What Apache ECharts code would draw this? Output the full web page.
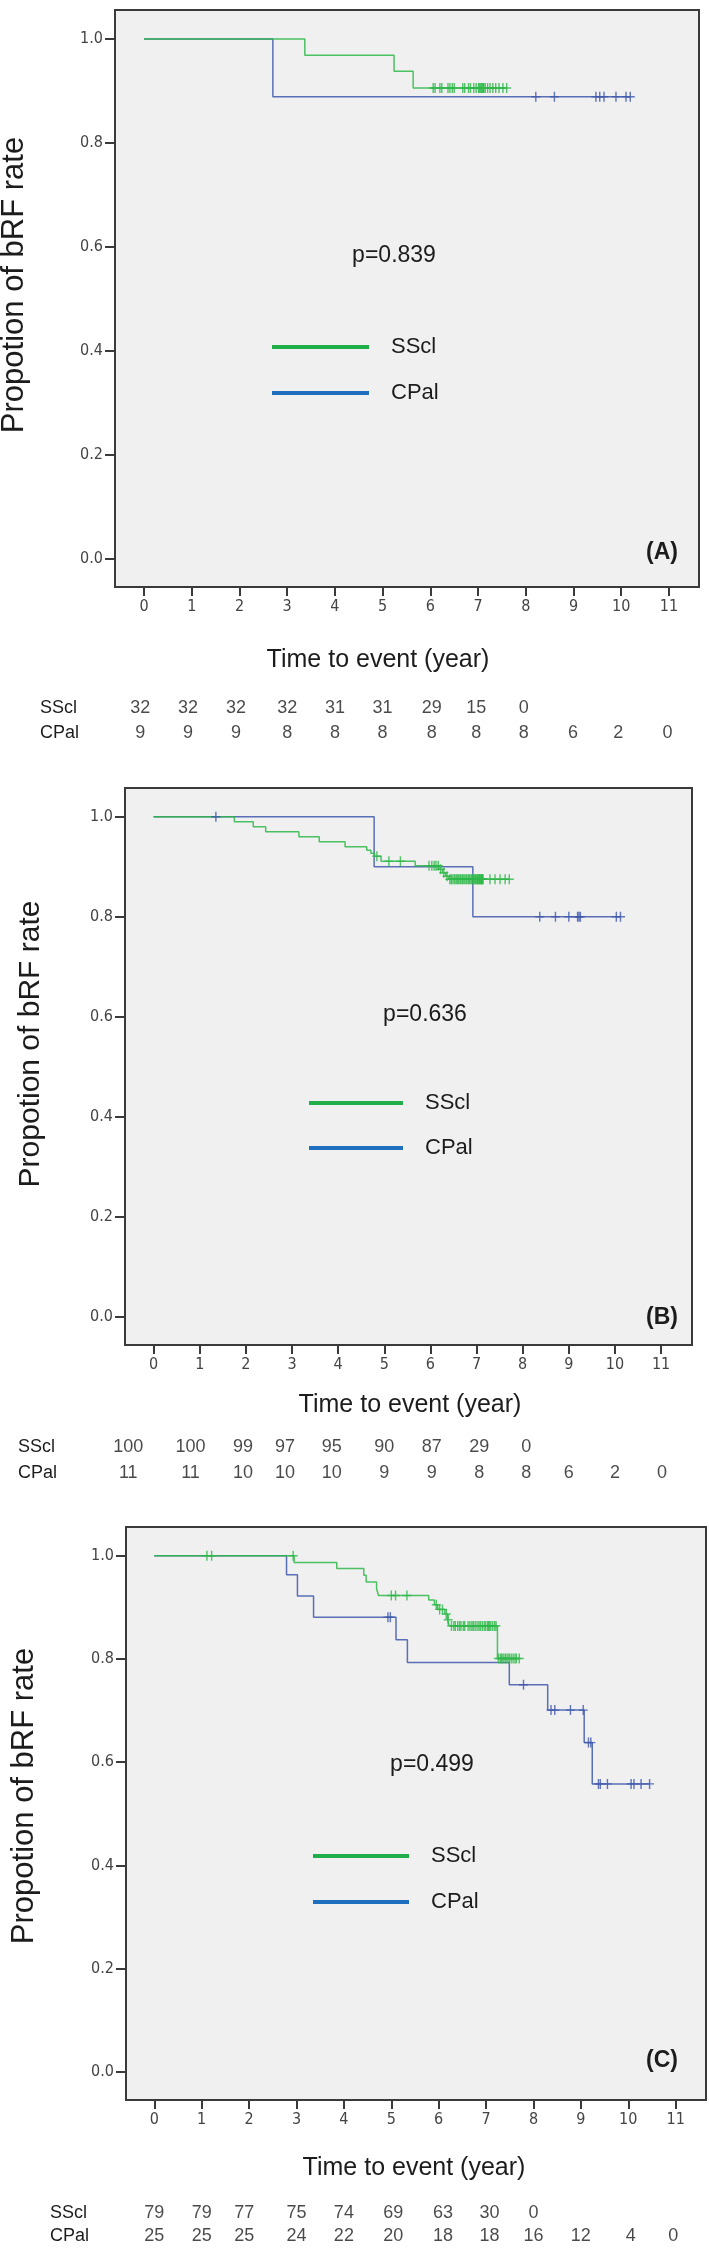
<!DOCTYPE html>
<html><head><meta charset="utf-8">
<script src="https://cdn.jsdelivr.net/npm/echarts@6/dist/echarts.min.js"></script>
<style>html,body{margin:0;padding:0;background:#fff}#c{width:709px;height:2248px}</style>
</head><body><div id="c"></div>
<script>
// ================= DATA =================
const xTicks = [0,1,2,3,4,5,6,7,8,9,10,11];
const yTicks = [0,0.2,0.4,0.6,0.8,1.0];
const groups = ['SScl','CPal'];
const yTitle = 'Propotion of bRF rate';
const xTitle = 'Time to event (year)';
const pValues = ['p=0.839','p=0.636','p=0.499'];
const panelLetters = ['(A)','(B)','(C)'];

// Panel A  (steps: [time, survival after drop])
const stepsA_SScl = [[0,1],[3.37,0.969],[5.24,0.938],[5.64,0.906]];
const censA_SScl = [6.06,6.10,6.20,6.24,6.37,6.41,6.46,6.50,6.68,6.72,6.80,6.84,6.91,6.96,7.01,7.03,7.05,7.07,7.09,7.11,7.12,7.15,7.20,7.25,7.31,7.37,7.44,7.52,7.60];
const stepsA_CPal = [[0,1],[2.70,0.889]];
const censA_CPal = [8.21,8.60,9.47,9.55,9.64,9.89,10.10,10.19];
const riskA_SScl = [32,32,32,32,31,31,29,15,0];
const riskA_CPal = [9,9,9,8,8,8,8,8,8,6,2,0];

// Panel B
const stepsB_SScl = [[0,1],[1.75,0.99],[2.16,0.98],[2.43,0.97],[3.15,0.96],[3.59,0.95],[4.15,0.94],[4.62,0.933],[4.71,0.927],[4.79,0.921],[4.93,0.911],[5.67,0.902],[6.18,0.895],[6.26,0.888],[6.33,0.881],[6.40,0.875]];
const censB_SScl = [4.84,5.10,5.35,5.97,6.03,6.08,6.12,6.17,6.22,6.29,6.36,
  6.42,6.45,6.47,6.51,6.53,6.56,6.59,6.61,6.64,6.66,6.69,6.71,6.74,6.77,6.79,6.82,6.84,6.86,6.89,6.91,6.93,6.96,6.97,6.99,
  7.01,7.02,7.03,7.05,7.06,7.07,7.09,7.10,7.11,7.12,7.13,7.14,7.29,7.40,7.51,7.62,7.71];
const stepsB_CPal = [[0,1],[4.78,0.90],[6.92,0.80]];
const censB_CPal = [1.35,8.37,8.71,9.00,9.19,9.22,9.25,10.03,10.12];
const riskB_SScl = [100,100,99,97,95,90,87,29,0];
const riskB_CPal = [11,11,10,10,10,9,9,8,8,6,2,0];

// Panel C
const stepsC_SScl = [[0,1],[2.95,0.987],[3.85,0.975],[4.42,0.962],[4.47,0.949],[4.69,0.936],[4.73,0.923],[5.79,0.914],[5.91,0.905],[5.98,0.896],[6.13,0.887],[6.19,0.876],[6.22,0.864],[7.24,0.801]];
const censC_SScl = [1.11,1.21,2.93,5.00,5.09,5.33,5.95,6.02,6.08,6.16,6.20,
  6.27,6.32,6.35,6.40,6.44,6.47,6.52,6.55,6.62,6.66,6.70,6.73,6.77,6.81,6.85,6.88,6.92,6.96,6.99,7.03,7.05,7.07,7.10,7.14,7.18,7.21,
  7.26,7.30,7.33,7.36,7.40,7.42,7.46,7.49,7.53,7.57,7.61,7.64,7.70];
const stepsC_CPal = [[0,1],[2.79,0.963],[3.02,0.922],[3.36,0.881],[5.10,0.837],[5.34,0.793],[7.49,0.750],[8.30,0.701],[9.07,0.638],[9.24,0.558]];
const censC_CPal = [4.93,4.98,7.79,8.37,8.45,8.78,9.05,9.16,9.21,9.37,9.41,9.56,10.06,10.12,10.27,10.45];
const riskC_SScl = [79,79,77,75,74,69,63,30,0];
const riskC_CPal = [25,25,25,24,22,20,18,18,16,12,4,0];

// ================= LAYOUT (positions / styles) =================
const FONT = "'Liberation Sans', Arial, Helvetica, sans-serif";
const NARROW = "'Liberation Sans Narrow', 'Arial Narrow', 'DejaVu Sans Condensed', sans-serif";
const GREEN = '#2EB848', BLUE = '#3E58AC';
const LEG_GREEN = '#1fae4a', LEG_BLUE = '#1f6fbf';
const TEXT = '#1c1c1c', AX = '#3a3a3a';

const panels = [
  {steps:[stepsA_SScl, stepsA_CPal], cens:[censA_SScl, censA_CPal], risk:[riskA_SScl, riskA_CPal],
   riskCols:[-0.08,0.92,1.93,3,4,5,6.03,6.96,7.96,8.99,9.94,10.97],
   grid:{left:115,top:10,width:584,height:577}, x:[-0.608,11.63], y:[-0.054,1.056],
   riskGrid:{top:695.5,height:50}, rowLabelMargin:75,
   legend:{left:272, top:334, gap:20, w:97}, pv:[394,256], xt:[378,660], yt:[14,285,31], letter:[662,553]},
  {steps:[stepsB_SScl, stepsB_CPal], cens:[censB_SScl, censB_CPal], risk:[riskB_SScl, riskB_CPal],
   riskCols:[-0.55,0.80,1.94,2.85,3.86,5.0,6.03,7.06,8.08,9.0,10.0,11.02],
   grid:{left:125,top:788,width:567,height:557}, x:[-0.62,11.67], y:[-0.0566,1.0574],
   riskGrid:{top:1434,height:52}, rowLabelMargin:107,
   legend:{left:309, top:1090, gap:19, w:94}, pv:[425,1015], xt:[410,1405], yt:[31,1044,30], letter:[662,1318]},
  {steps:[stepsC_SScl, stepsC_CPal], cens:[censC_SScl, censC_CPal], risk:[riskC_SScl, riskC_CPal],
   riskCols:[0,1,1.9,3,4,5.04,6.09,7.07,8,9,10.05,10.95],
   grid:{left:126,top:1527,width:580,height:573}, x:[-0.597,11.64], y:[-0.0542,1.0556],
   riskGrid:{top:2201.5,height:50}, rowLabelMargin:76,
   legend:{left:313, top:1843, gap:20, w:96}, pv:[432,1765], xt:[414,2168], yt:[24,1796,31], letter:[662,2061]}
];

function survAt(steps, t) {
  let s = steps[0][1];
  for (const [tt, v] of steps) if (tt <= t) s = v;
  return s;
}
const PLUS = 'path://M4.2,0 L5.8,0 L5.8,4.3 L10,4.3 L10,5.7 L5.8,5.7 L5.8,10 L4.2,10 L4.2,5.7 L0,5.7 L0,4.3 L4.2,4.3 Z';

const grids = [], xAxes = [], yAxes = [], series = [], legends = [], graphics = [];
const colors = [GREEN, BLUE];

panels.forEach((p, i) => {
  grids.push(Object.assign({show:true, backgroundColor:'#f0f0f0', borderColor:AX, borderWidth:2, containLabel:false}, p.grid));
  xAxes.push({type:'value', gridIndex:i, min:p.x[0], max:p.x[1],
    axisLine:{show:true, onZero:false, lineStyle:{color:AX, width:2}},
    axisTick:{show:true, customValues:xTicks, length:9, lineStyle:{color:AX, width:2}},
    axisLabel:{customValues:xTicks, margin:12, fontSize:16, fontFamily:NARROW, color:'#444'},
    splitLine:{show:false}});
  yAxes.push({type:'value', gridIndex:i, min:p.y[0], max:p.y[1],
    axisLine:{show:true, onZero:false, lineStyle:{color:AX, width:2}},
    axisTick:{show:true, customValues:yTicks, length:10, lineStyle:{color:AX, width:2}},
    axisLabel:{customValues:yTicks, margin:12, fontSize:16, fontFamily:NARROW, color:'#444', formatter:v => v.toFixed(1)},
    splitLine:{show:false}});
});
panels.forEach((p, i) => {
  const gi = 3 + i;
  grids.push({left:p.grid.left, width:p.grid.width, top:p.riskGrid.top, height:p.riskGrid.height});
  xAxes.push({type:'value', gridIndex:gi, min:p.x[0], max:p.x[1], show:false});
  yAxes.push({type:'category', gridIndex:gi, data:groups, inverse:true,
    axisLine:{show:false}, axisTick:{show:false}, splitLine:{show:false},
    axisLabel:{show:true, interval:0, align:'left', margin:p.rowLabelMargin, fontSize:18, fontFamily:FONT, color:TEXT}});
});

panels.forEach((p, i) => {
  // draw CPal (blue) first, then SScl (green) on top
  [1, 0].forEach(g => {
    const steps = p.steps[g], cens = p.cens[g];
    const end = Math.max(steps[steps.length-1][0], ...cens);
    const lineData = steps.concat([[end, steps[steps.length-1][1]]]);
    series.push({type:'line', name:groups[g], xAxisIndex:i, yAxisIndex:i, data:lineData, step:'end',
      symbol:'none', silent:true, lineStyle:{color:colors[g], width:1.5, opacity:0.85}, itemStyle:{color:colors[g]}, z:3});
    series.push({type:'scatter', name:groups[g] + ' censored', xAxisIndex:i, yAxisIndex:i,
      data:cens.map(t => [t, survAt(steps, t)]), symbol:PLUS, symbolSize:[9,10], silent:true,
      itemStyle:{color:colors[g]}, z:4});
  });
  // risk table
  [0, 1].forEach(g => {
    series.push({type:'scatter', name:'risk ' + groups[g] + ' ' + i, xAxisIndex:3+i, yAxisIndex:3+i,
      data:p.risk[g].map((n, k) => [p.riskCols[k], g, n]), symbolSize:1, silent:true,
      itemStyle:{color:'rgba(0,0,0,0)'},
      label:{show:true, position:'inside', formatter:q => String(q.value[2]), fontSize:18, fontFamily:FONT, color:TEXT}});
  });
  legends.push({orient:'vertical', left:p.legend.left, top:p.legend.top, itemWidth:p.legend.w, itemHeight:4,
    itemGap:p.legend.gap, icon:'rect', selectedMode:false, padding:0,
    data:[{name:'SScl', itemStyle:{color:LEG_GREEN}}, {name:'CPal', itemStyle:{color:LEG_BLUE}}],
    textStyle:{fontSize:22, lineHeight:26, fontFamily:FONT, color:TEXT, padding:[0,0,0,17]}});
  const txt = (x, y, text, size, extra) => Object.assign({type:'text', x:x, y:y, silent:true,
    style:{text:text, fontSize:size, fontFamily:FONT, fill:TEXT, align:'center', verticalAlign:'middle',
      textAlign:'center', textVerticalAlign:'middle'}}, extra || {});
  graphics.push(txt(p.pv[0], p.pv[1], pValues[i], 23));
  graphics.push(txt(p.xt[0], p.xt[1], xTitle, 25));
  graphics.push(txt(p.yt[0], p.yt[1], yTitle, p.yt[2], {rotation:Math.PI/2}));
  const L = txt(p.letter[0], p.letter[1], panelLetters[i], 23);
  L.style.fontWeight = 'bold';
  graphics.push(L);
});

const chart = echarts.init(document.getElementById('c'), null, {renderer:'canvas'});
chart.setOption({
  animation:false,
  backgroundColor:'#ffffff',
  grid:grids, xAxis:xAxes, yAxis:yAxes, series:series, legend:legends,
  graphic:{elements:graphics}
});
</script></body></html>
